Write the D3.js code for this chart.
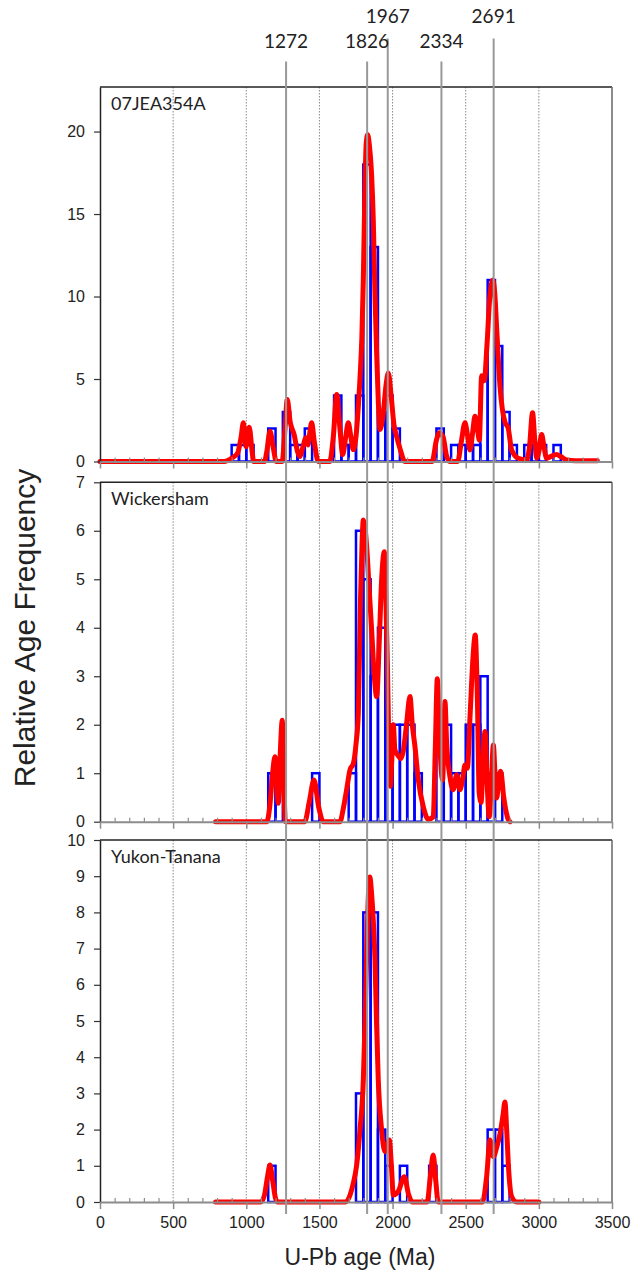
<!DOCTYPE html>
<html>
<head>
<meta charset="utf-8">
<script src="https://cdn.jsdelivr.net/npm/d3@7"></script>
<style>
  body { margin: 0; background: #fff; }
  svg { display: block; }
  .tick text { font-family: "Liberation Sans", Arial, sans-serif; font-size: 16px; fill: #222; }
</style>
</head>
<body>
<div id="chart"></div>
<script>
const panelNames = ['07JEA354A', 'Wickersham', 'Yukon-Tanana'];
const refAges = [1272, 1826, 1967, 2334, 2691];
const gridAges = [500, 1000, 1500, 2000, 2500, 3000];
const xTicks = [0, 500, 1000, 1500, 2000, 2500, 3000, 3500];
const yMaxes = [22.7, 7, 10];
const yTicks = [
  [0, 5, 10, 15, 20],
  [0, 1, 2, 3, 4, 5, 6, 7],
  [0, 1, 2, 3, 4, 5, 6, 7, 8, 9, 10]
];
const binWidth = 50;

// histogram bins: [bin start age, count]
const bins07JEA = [
  [900, 1], [950, 1], [1000, 1], [1150, 2], [1250, 3], [1300, 1], [1350, 1], [1400, 2],
  [1600, 4], [1650, 1], [1700, 1], [1750, 4], [1800, 18], [1850, 13], [1900, 3], [1950, 4],
  [2000, 2], [2300, 2], [2400, 1], [2450, 1], [2500, 1], [2550, 1], [2600, 5], [2650, 11],
  [2700, 7], [2750, 3], [2800, 1], [2900, 1], [2950, 1], [3000, 1], [3100, 1]
];
const binsWickersham = [
  [1150, 1], [1200, 1], [1450, 1], [1700, 1], [1750, 6], [1800, 5], [1850, 3], [1900, 4],
  [1950, 2], [2000, 2], [2050, 2], [2100, 2], [2150, 1], [2300, 2], [2350, 2], [2400, 1],
  [2450, 1], [2500, 2], [2550, 2], [2600, 3], [2650, 1], [2700, 1]
];
const binsYukon = [
  [1150, 1], [1750, 3], [1800, 8], [1850, 8], [1900, 2], [1950, 1], [2050, 1], [2250, 1],
  [2650, 2], [2700, 2], [2750, 1]
];

// probability density curves: [age, relative frequency]
const curve07JEA = [
  [0, 0], [850, 0], [900, 0.2], [940, 0.5], [965, 1.5], [980, 2.35], [998, 0.9], [1020, 2.08],
  [1040, 0.6], [1050, 0], [1125, 0], [1140, 0.6], [1162, 1.84], [1185, 0.8], [1205, 0],
  [1245, 0], [1265, 2.0], [1280, 3.76], [1300, 2.4], [1328, 1.6], [1350, 0.6], [1367, 0.3],
  [1385, 0.8], [1408, 1.44], [1422, 1.0], [1435, 1.8], [1447, 2.35], [1465, 1.2], [1492, 0],
  [1570, 0], [1595, 1.5], [1618, 4.06], [1640, 2.0], [1659, 0.42], [1680, 1.5], [1697, 2.35],
  [1715, 1.5], [1731, 0.72], [1750, 1.5], [1766, 3.35], [1780, 5.5], [1790, 7.5], [1800, 11],
  [1810, 16], [1820, 19.3], [1830, 19.8], [1841, 19.2], [1857, 17.3], [1868, 14.7], [1880, 10],
  [1891, 6.6], [1903, 3.5], [1914, 1.94], [1935, 2.8], [1955, 4.6], [1971, 5.37], [1990, 4.0],
  [2010, 2.2], [2028, 1.5], [2050, 0.8], [2085, 0], [2270, 0], [2300, 1.3], [2320, 1.75],
  [2345, 1.5], [2370, 0.3], [2390, 0], [2445, 0], [2470, 1.2], [2495, 2.35], [2512, 1.6],
  [2529, 0.7], [2548, 1.8], [2563, 2.75], [2580, 2.0], [2593, 1.3], [2609, 5.2], [2627, 4.9],
  [2645, 7], [2665, 10], [2686, 11], [2700, 10], [2712, 8], [2723, 6.2], [2734, 4.6],
  [2750, 3.2], [2768, 2.4], [2791, 2.0], [2814, 0.7], [2859, 0.2], [2916, 0.1], [2935, 0.8],
  [2957, 2.95], [2972, 1.3], [2985, 0.2], [3000, 0.6], [3019, 1.64], [3035, 0.9], [3053, 0.2],
  [3080, 0.3], [3121, 0.42], [3150, 0.3], [3189, 0.1], [3250, 0.05], [3400, 0.05]
];
const curveWickersham = [
  [790, 0], [1140, 0], [1160, 0.3], [1180, 1.0], [1196, 1.34], [1210, 0.6], [1219, 0.38],
  [1232, 1.4], [1246, 2.09], [1257, 0.8], [1267, 0], [1400, 0], [1430, 0.4], [1463, 0.86],
  [1495, 0.3], [1527, 0], [1640, 0], [1665, 0.3], [1686, 0.66], [1709, 1.07], [1732, 1.2],
  [1750, 1.6], [1766, 2.24], [1780, 4.5], [1792, 5.8], [1800, 6.22], [1810, 6.1], [1823, 5.67],
  [1840, 4.8], [1857, 3.95], [1875, 3.0], [1891, 2.58], [1910, 3.8], [1925, 4.98], [1944, 5.57],
  [1955, 4.5], [1965, 3.2], [1975, 1.5], [1985, 0.73], [1995, 1.3], [2005, 2.0], [2016, 1.48],
  [2039, 1.36], [2055, 1.3], [2073, 1.45], [2095, 2.0], [2119, 2.58], [2135, 2.0], [2153, 1.55],
  [2176, 0.86], [2210, 0.31], [2244, 0.05], [2278, 0.1], [2292, 1.5], [2306, 2.95], [2320, 1.8],
  [2342, 0.86], [2350, 1.6], [2358, 2.48], [2370, 1.6], [2392, 0.93], [2415, 0.66], [2438, 0.97],
  [2460, 0.66], [2480, 0.9], [2495, 1.17], [2511, 1.1], [2530, 2.2], [2550, 3.4], [2565, 3.85],
  [2580, 2.5], [2592, 0.6], [2605, 0.4], [2618, 1.2], [2632, 1.86], [2645, 0.9], [2661, 0.1],
  [2675, 0.8], [2689, 1.58], [2700, 1.0], [2711, 0.49], [2725, 0.8], [2739, 1.04], [2760, 0.5],
  [2790, 0.05], [2803, 0]
];
const curveYukon = [
  [790, 0], [1100, 0], [1125, 0.2], [1145, 0.7], [1162, 1.02], [1180, 0.6], [1200, 0.1],
  [1212, 0], [1680, 0], [1710, 0.2], [1731, 0.51], [1754, 1.0], [1777, 1.98], [1800, 3.36],
  [1812, 5.0], [1822, 6.67], [1835, 8.5], [1845, 8.98], [1855, 8.6], [1868, 7.8], [1880, 6.67],
  [1890, 5.0], [1902, 3.4], [1925, 2.0], [1948, 1.39], [1965, 1.6], [1978, 1.71], [1992, 1.0],
  [2005, 0.19], [2040, 0.3], [2080, 0.7], [2110, 0.2], [2135, 0], [2237, 0], [2258, 0.7],
  [2278, 1.3], [2295, 0.6], [2312, 0], [2615, 0], [2643, 0.7], [2666, 1.71], [2689, 1.25],
  [2711, 1.5], [2734, 1.87], [2755, 2.4], [2768, 2.76], [2780, 2.0], [2791, 1.07], [2814, 0.15],
  [2848, 0], [3000, 0]
];

const allBins = [bins07JEA, binsWickersham, binsYukon];
const allCurves = [curve07JEA, curveWickersham, curveYukon];

const W = 638, H = 1272;
const LEFT = 100, RIGHT = 612;
const boxes = [
  { top: 87, bottom: 461.5 },
  { top: 482.3, bottom: 821.7 },
  { top: 840, bottom: 1202 }
];

const svg = d3.select('#chart').append('svg')
  .attr('width', W).attr('height', H)
  .attr('viewBox', `0 0 ${W} ${H}`);

const x = d3.scaleLinear().domain([0, 3500]).range([LEFT, RIGHT]);
const minorTicks = d3.range(0, 3501, 100).filter((v) => v % 500 !== 0);

boxes.forEach((box, i) => {
  const y = d3.scaleLinear().domain([0, yMaxes[i]]).range([box.bottom, box.top]);
  const g = svg.append('g');

  // dotted grid
  g.selectAll('line.grid').data(gridAges).join('line')
    .attr('x1', (d) => x(d)).attr('x2', (d) => x(d))
    .attr('y1', box.top).attr('y2', box.bottom)
    .attr('stroke', '#8a8a8a').attr('stroke-width', 1)
    .attr('stroke-dasharray', '1.5,1.5');

  // histogram
  g.selectAll('rect.bin').data(allBins[i]).join('rect')
    .attr('x', (d) => x(d[0]))
    .attr('width', (d) => x(d[0] + binWidth) - x(d[0]))
    .attr('y', (d) => y(d[1]))
    .attr('height', (d) => y(0) - y(d[1]))
    .attr('fill', 'none').attr('stroke', '#0000ff').attr('stroke-width', 2.5);

  // probability curve
  const line = d3.line()
    .x((p) => x(p[0])).y((p) => y(p[1]))
    .curve(d3.curveMonotoneX);
  g.append('path').datum(allCurves[i])
    .attr('d', line)
    .attr('fill', 'none').attr('stroke', '#ff0000')
    .attr('stroke-width', 5).attr('stroke-linejoin', 'round').attr('stroke-linecap', 'round');

  // frame: top and right
  g.append('line').attr('x1', LEFT).attr('x2', RIGHT).attr('y1', box.top).attr('y2', box.top)
    .attr('stroke', '#222').attr('stroke-width', 1.5);
  g.append('line').attr('x1', RIGHT).attr('x2', RIGHT).attr('y1', box.top).attr('y2', box.bottom)
    .attr('stroke', '#666').attr('stroke-width', 1.5);

  // left axis
  const ya = g.append('g').attr('transform', `translate(${LEFT},0)`)
    .call(d3.axisLeft(y).tickValues(yTicks[i]).tickSize(6).tickSizeOuter(0).tickPadding(9)
      .tickFormat(d3.format('d')));
  ya.select('.domain').attr('stroke', '#222').attr('stroke-width', 1.5);
  ya.selectAll('.tick line').attr('stroke', '#333').attr('stroke-width', 1.2);

  // bottom axis, major ticks down, minor ticks up
  const xa = g.append('g').attr('transform', `translate(0,${box.bottom})`)
    .call(d3.axisBottom(x).tickValues(xTicks).tickSize(7).tickSizeOuter(0).tickPadding(8)
      .tickFormat(i === 2 ? d3.format('d') : () => ''));
  xa.select('.domain').attr('stroke', '#8c8c8c').attr('stroke-width', 2);
  xa.selectAll('.tick line').attr('stroke', '#8c8c8c').attr('stroke-width', 1.5);
  const xm = g.append('g').attr('transform', `translate(0,${box.bottom})`)
    .call(d3.axisTop(x).tickValues(minorTicks).tickSize(4).tickSizeOuter(0).tickFormat(() => ''));
  xm.select('.domain').remove();
  xm.selectAll('.tick line').attr('stroke', '#8c8c8c').attr('stroke-width', 1.2);

  g.append('text')
    .attr('x', 111).attr('y', box.top + 23)
    .attr('font-family', 'Lato, "Open Sans", sans-serif').attr('font-size', 18)
    .attr('fill', '#222')
    .text(panelNames[i]);
});

// reference age lines across all panels
let prevRaised = true;
const refs = refAges.map((a, i) => {
  const raised = i > 0 && a - refAges[i - 1] < 400 && !prevRaised;
  prevRaised = raised;
  return { age: a, raised };
});
svg.selectAll('line.ref').data(refs).join('line')
  .attr('x1', (d) => x(d.age)).attr('x2', (d) => x(d.age))
  .attr('y1', (d) => (d.raised ? 38.5 : 61.5)).attr('y2', 1214)
  .attr('stroke', '#999').attr('stroke-width', 2);
svg.selectAll('text.ref').data(refs).join('text')
  .attr('x', (d) => x(d.age)).attr('y', (d) => (d.raised ? 23 : 48))
  .attr('text-anchor', 'middle')
  .attr('font-family', 'Lato, "Open Sans", sans-serif').attr('font-size', 19)
  .attr('fill', '#222')
  .text((d) => d.age);

// axis titles
svg.append('text')
  .attr('transform', 'translate(35,628) rotate(-90)')
  .attr('text-anchor', 'middle')
  .attr('font-family', '"Liberation Sans", Arial, sans-serif').attr('font-size', 30)
  .attr('fill', '#222')
  .text('Relative Age Frequency');
svg.append('text')
  .attr('x', (LEFT + RIGHT) / 2 + 4).attr('y', 1265)
  .attr('text-anchor', 'middle')
  .attr('font-family', '"Liberation Sans", Arial, sans-serif').attr('font-size', 23)
  .attr('fill', '#222')
  .text('U-Pb age (Ma)');
</script>
</body>
</html>
